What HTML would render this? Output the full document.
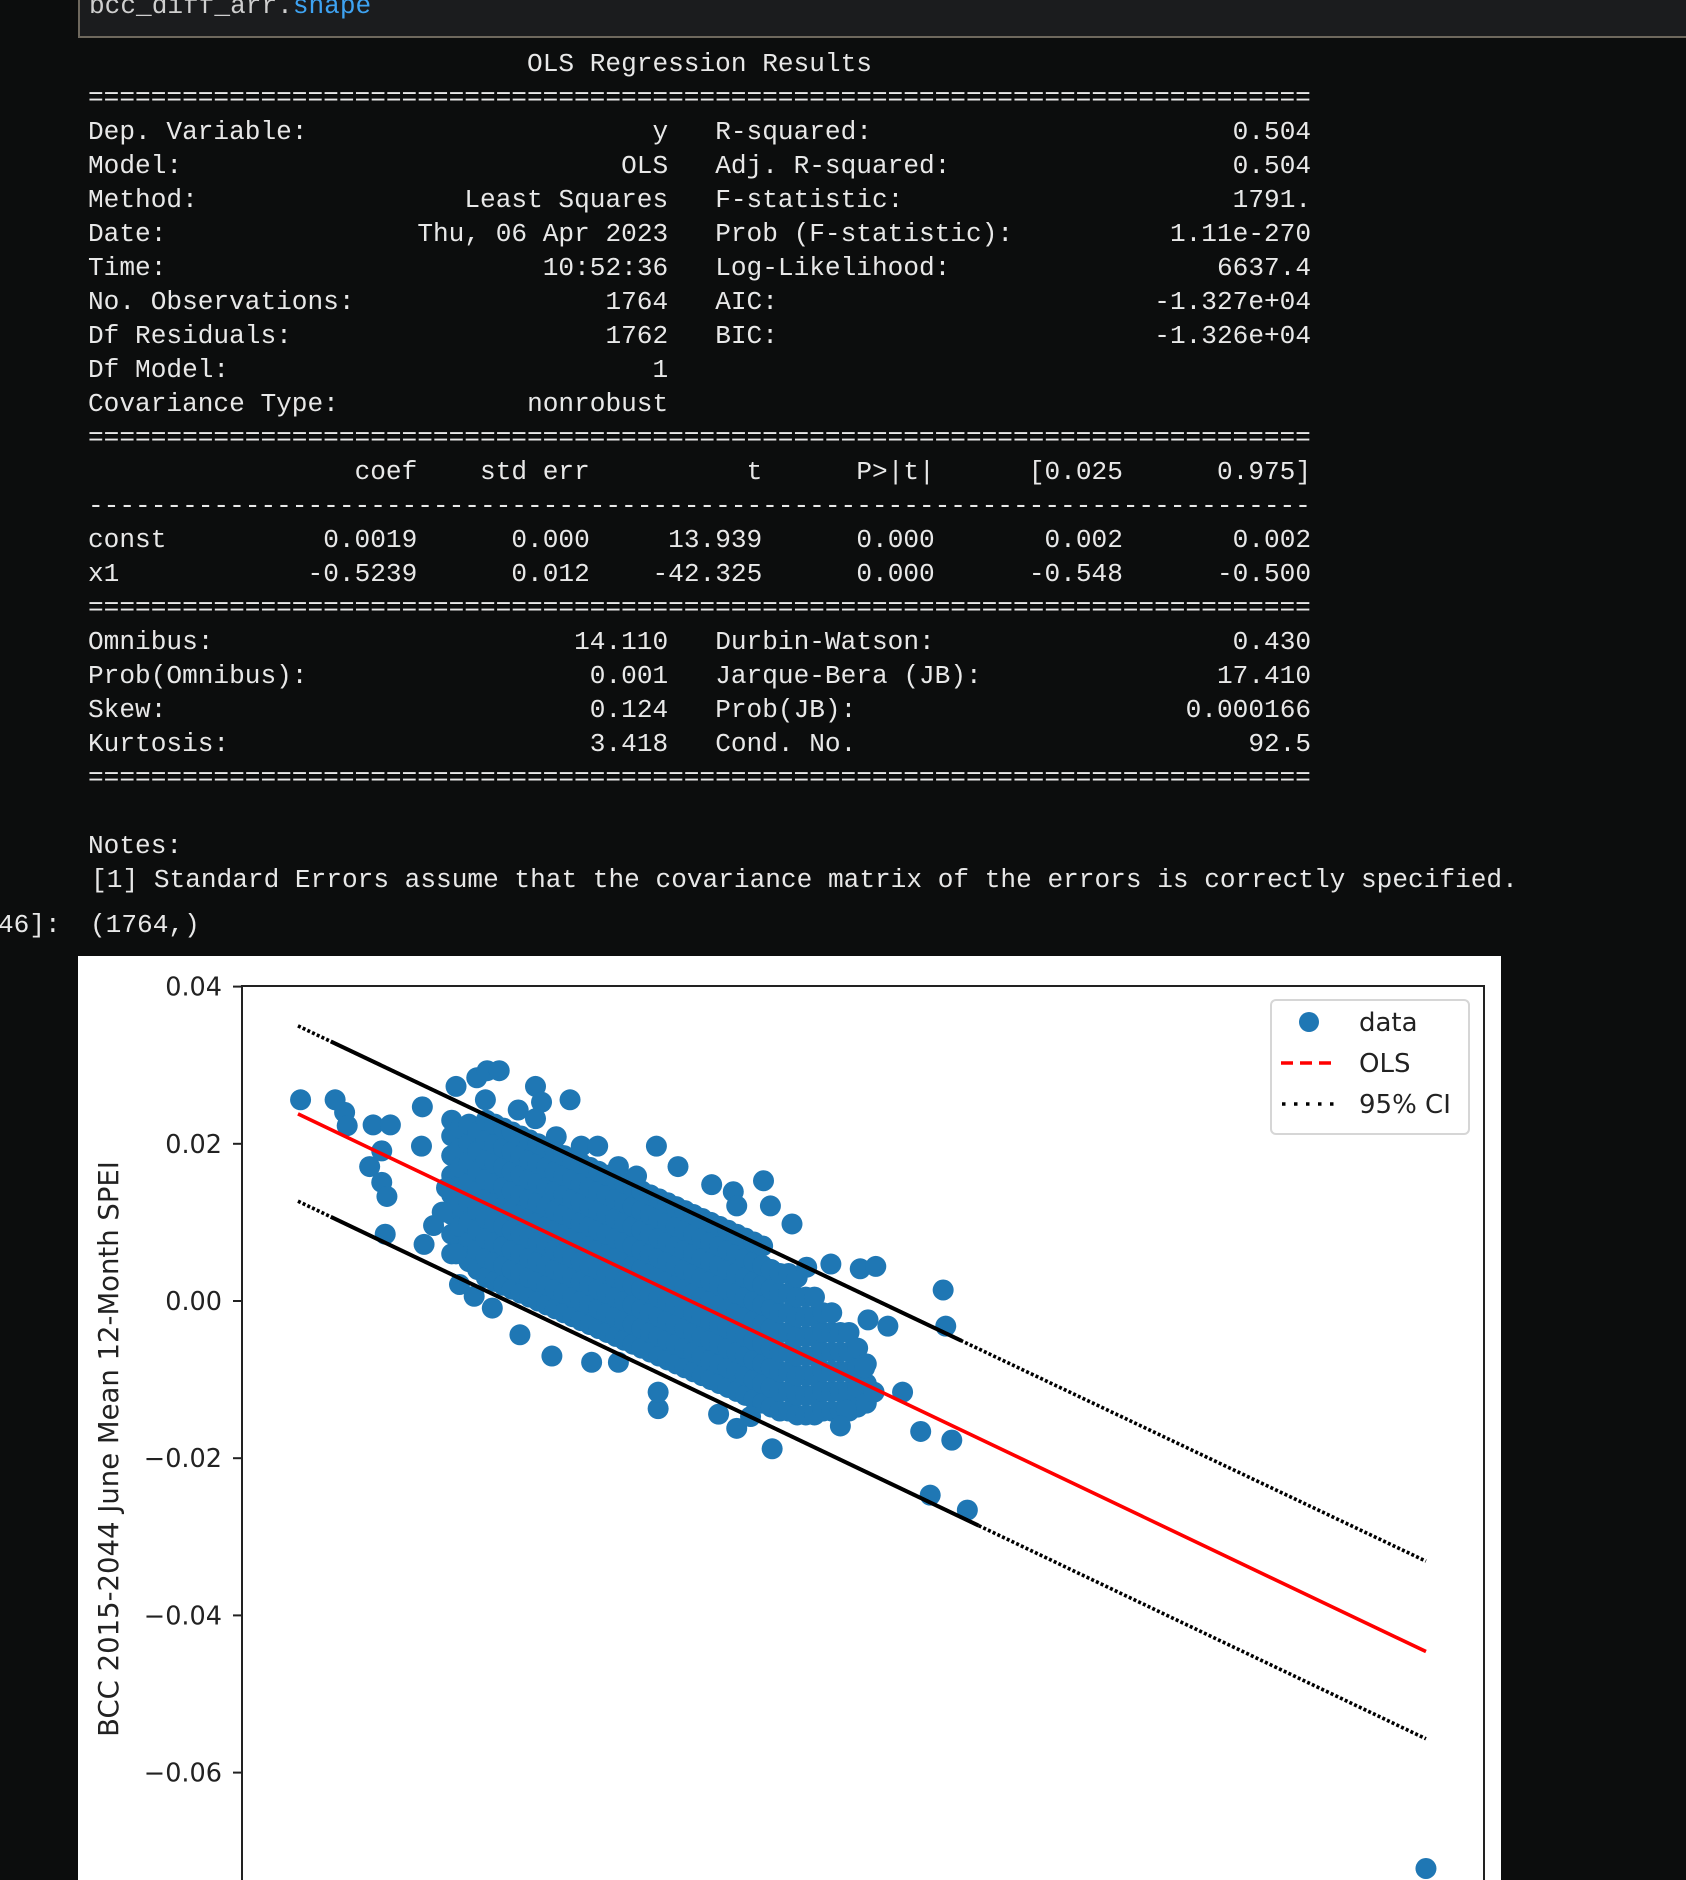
<!DOCTYPE html>
<html><head><meta charset="utf-8">
<style>
html,body{margin:0;padding:0;background:#0c0d0d;}
body{width:1686px;height:1880px;position:relative;overflow:hidden;font-family:"Liberation Mono",monospace;color:#e8e8e8;}
.code{position:absolute;left:78px;top:-4px;width:1640px;height:42px;background:#1b1c1e;border:2px solid #6e685d;box-sizing:border-box;overflow:hidden;}
.code span{position:absolute;left:9px;top:-9px;font-size:26.13px;line-height:34px;white-space:pre;color:#cfcfcf}
.row{position:absolute;left:0;width:1686px;height:34px;font-size:26.13px;line-height:34px;white-space:pre;}
.row span{position:absolute;top:0;}
svg{position:absolute;left:0;top:0;}
</style></head>
<body>
<div class="code"><span>bcc_diff_arr.<span style="position:static;color:#3ea3f2">shape</span></span></div>

<div id="summary"></div>

<svg id="chart" width="1686" height="1880"></svg>

<script>
const summaryRows = [
  {i:0, cells:[["OLS Regression Results",28,"l"]]},
  {i:1, cells:[["==============================================================================",0,"l"]]},
  {i:2, cells:[["Dep. Variable:",0,"l"],["y",37,"r"],["R-squared:",40,"l"],["0.504",78,"r"]]},
  {i:3, cells:[["Model:",0,"l"],["OLS",37,"r"],["Adj. R-squared:",40,"l"],["0.504",78,"r"]]},
  {i:4, cells:[["Method:",0,"l"],["Least Squares",37,"r"],["F-statistic:",40,"l"],["1791.",78,"r"]]},
  {i:5, cells:[["Date:",0,"l"],["Thu, 06 Apr 2023",37,"r"],["Prob (F-statistic):",40,"l"],["1.11e-270",78,"r"]]},
  {i:6, cells:[["Time:",0,"l"],["10:52:36",37,"r"],["Log-Likelihood:",40,"l"],["6637.4",78,"r"]]},
  {i:7, cells:[["No. Observations:",0,"l"],["1764",37,"r"],["AIC:",40,"l"],["-1.327e+04",78,"r"]]},
  {i:8, cells:[["Df Residuals:",0,"l"],["1762",37,"r"],["BIC:",40,"l"],["-1.326e+04",78,"r"]]},
  {i:9, cells:[["Df Model:",0,"l"],["1",37,"r"]]},
  {i:10, cells:[["Covariance Type:",0,"l"],["nonrobust",37,"r"]]},
  {i:11, cells:[["==============================================================================",0,"l"]]},
  {i:12, cells:[["coef",21,"r"],["std err",32,"r"],["t",43,"r"],["P>|t|",54,"r"],["[0.025",66,"r"],["0.975]",78,"r"]]},
  {i:13, cells:[["------------------------------------------------------------------------------",0,"l"]]},
  {i:14, cells:[["const",0,"l"],["0.0019",21,"r"],["0.000",32,"r"],["13.939",43,"r"],["0.000",54,"r"],["0.002",66,"r"],["0.002",78,"r"]]},
  {i:15, cells:[["x1",0,"l"],["-0.5239",21,"r"],["0.012",32,"r"],["-42.325",43,"r"],["0.000",54,"r"],["-0.548",66,"r"],["-0.500",78,"r"]]},
  {i:16, cells:[["==============================================================================",0,"l"]]},
  {i:17, cells:[["Omnibus:",0,"l"],["14.110",37,"r"],["Durbin-Watson:",40,"l"],["0.430",78,"r"]]},
  {i:18, cells:[["Prob(Omnibus):",0,"l"],["0.001",37,"r"],["Jarque-Bera (JB):",40,"l"],["17.410",78,"r"]]},
  {i:19, cells:[["Skew:",0,"l"],["0.124",37,"r"],["Prob(JB):",40,"l"],["0.000166",78,"r"]]},
  {i:20, cells:[["Kurtosis:",0,"l"],["3.418",37,"r"],["Cond. No.",40,"l"],["92.5",78,"r"]]},
  {i:21, cells:[["==============================================================================",0,"l"]]},
  {i:23, cells:[["Notes:",0,"l"]]},
  {i:24, cells:[["[1] Standard Errors assume that the covariance matrix of the errors is correctly specified.",0.2,"l"]]}
];
(function(){
  const cw = 15.68, left = 88, top0 = 46.6, lh = 34;
  const host = document.getElementById('summary');
  summaryRows.forEach(r=>{
    const row = document.createElement('div');
    row.className='row';
    
    
    row.style.top = (top0 + r.i*lh) + 'px';
    r.cells.forEach(c=>{
      const s = document.createElement('span');
      s.textContent = c[0];
      
      
      if(c[2]==='l'){ s.style.left = (left + c[1]*cw) + 'px'; }
      else { s.style.right = (1686 - (left + c[1]*cw)) + 'px'; }
      row.appendChild(s);
    });
    host.appendChild(row);
  });
  const out = document.createElement('div');
  out.className='row';
  
  
  out.style.top = (925-17)+'px';
  out.innerHTML = '<span style="left:-2px">46]:</span><span style="left:90px">(1764,)</span>';
  document.body.appendChild(out);
})();
</script>

<script>
// ---------- chart data (values in thousandths) ----------
const yTickValues = [40, 20, 0, -20, -40, -60];
const yTickLabels = ["0.04", "0.02", "0.00", "\u22120.02", "\u22120.04", "\u22120.06"];
const fitX = [-41.8, 88.8];
const fitY = [23.8, -44.6];
const ciUpperY = [35.0, -33.1];
const ciLowerY = [12.7, -55.7];
const ciUpperDenseX = [-38, 35];
const ciLowerDenseX = [-38, 37];
const outlierPoints = [
  [-41.5,25.6],[-37.5,25.6],[-36.4,24.0],[-36.1,22.3],[-33.1,22.4],[-31.1,22.4],[-32.1,19.1],
  [-33.5,17.1],[-32.1,15.1],[-31.5,13.3],[-31.7,8.5],[-27.4,24.7],[-27.5,19.7],
  [-21.1,28.4],[-19.9,29.3],[-18.5,29.3],[-20.1,25.6],[-23.5,27.3],
  [-16.3,24.3],[-14.3,27.3],[-13.6,25.3],[-14.3,23.2],[-10.3,25.6],
  [-11.9,20.9],[-9.0,19.7],[-7.1,19.7],[-4.7,17.1],[-2.6,15.9],[-0.3,19.7],[2.2,17.1],
  [6.1,14.8],[8.6,13.9],[12.1,15.3],[9.0,12.1],[12.9,12.1],[15.4,9.8],
  [17.1,4.3],[19.9,4.7],[23.3,4.1],[25.1,4.4],[32.9,1.4],[33.2,-3.2],
  [28.2,-11.6],[30.3,-16.6],[33.9,-17.7],[31.4,-24.7],[35.7,-26.6],[88.8,-72.2],
  [24.2,-2.4],[26.5,-3.2],[23.8,-8.5],[24.9,-11.6],[21.7,-13.9],[21.0,-15.9],
  [13.1,-18.8],[9.0,-16.2],[10.6,-14.7],[-0.1,-13.7],[-0.1,-11.6],[6.9,-14.4],
  [-12.4,-7.0],[-16.1,-4.3],[-19.3,-0.9],[-21.4,0.6],[-23.1,2.1],[-23.5,6.0],
  [-27.2,7.2],[-26.1,9.6],[-7.8,-7.8],[-4.7,-7.8],[-24.6,14.4],[-25.1,11.3]
];
const coreColumns = [
  [-24,[6,8.5,11,13.5,16,18.5,21,23]],
  [-23,[7,9.5,12,14.5,17,19.5,22]],
  [-22,[5,7.5,10,12.5,15,17.5,20,22.5]],
  [-21,[4,6.5,9,11.5,14,16.5,19,21.5]],
  [-20,[3,5.5,8,10.5,13,15.5,18,20.5,23]],
  [-19,[2.5,5,7.5,10,12.5,15,17.5,20,22.5]],
  [-18,[2,4.5,7,9.5,12,14.5,17,19.5,22]],
  [-17,[1.5,4,6.5,9,11.5,14,16.5,19,21.5]],
  [-16,[1,3.5,6,8.5,11,13.5,16,18.5,21]],
  [-15,[0.5,3,5.5,8,10.5,13,15.5,18,20.5]],
  [-14,[0,2.5,5,7.5,10,12.5,15,17.5,20]],
  [-13,[-0.5,2,4.5,7,9.5,12,14.5,17,19.5]],
  [-12,[-1,1.5,4,6.5,9,11.5,14,16.5,19]],
  [-11,[-1.5,1,3.5,6,8.5,11,13.5,16,18.5]],
  [-10,[-2,0.5,3,5.5,8,10.5,13,15.5,18]],
  [-9,[-2.5,0,2.5,5,7.5,10,12.5,15,17.5]],
  [-8,[-3,-0.5,2,4.5,7,9.5,12,14.5,17]],
  [-7,[-3.5,-1,1.5,4,6.5,9,11.5,14,16.5]],
  [-6,[-4,-1.5,1,3.5,6,8.5,11,13.5,16]],
  [-5,[-4.5,-2,0.5,3,5.5,8,10.5,13,15.5]],
  [-4,[-5,-2.5,0,2.5,5,7.5,10,12.5,15]],
  [-3,[-5.5,-3,-0.5,2,4.5,7,9.5,12,14.5]],
  [-2,[-6,-3.5,-1,1.5,4,6.5,9,11.5,14]],
  [-1,[-6.5,-4,-1.5,1,3.5,6,8.5,11,13.5]],
  [0,[-7,-4.5,-2,0.5,3,5.5,8,10.5,13]],
  [1,[-7.5,-5,-2.5,0,2.5,5,7.5,10,12.5]],
  [2,[-8,-5.5,-3,-0.5,2,4.5,7,9.5,12]],
  [3,[-8.5,-6,-3.5,-1,1.5,4,6.5,9,11.5]],
  [4,[-9,-6.5,-4,-1.5,1,3.5,6,8.5,11]],
  [5,[-9.5,-7,-4.5,-2,0.5,3,5.5,8,10.5]],
  [6,[-10,-7.5,-5,-2.5,0,2.5,5,7.5,10]],
  [7,[-10.5,-8,-5.5,-3,-0.5,2,4.5,7,9.5]],
  [8,[-11,-8.5,-6,-3.5,-1,1.5,4,6.5,9]],
  [9,[-11.5,-9,-6.5,-4,-1.5,1,3.5,6,8.5]],
  [10,[-12,-9.5,-7,-4.5,-2,0.5,3,5.5,8]],
  [11,[-12.5,-10,-7.5,-5,-2.5,0,2.5,5,7.5]],
  [12,[-13,-10.5,-8,-5.5,-3,-0.5,2,4.5,7]],
  [13,[-13.5,-11,-8.5,-6,-3.5,-1,1.5,4]],
  [14,[-14,-11.5,-9,-6.5,-4,-1.5,1,3.5]],
  [15,[-14,-11.5,-9,-6.5,-4,-1.5,1,3.5]],
  [16,[-14.5,-12,-9.5,-7,-4.5,-2,0.5,3]],
  [17,[-14.5,-12,-9.5,-7,-4.5,-2,0.5]],
  [18,[-14.5,-12,-9.5,-7,-4.5,-2,0.5]],
  [19,[-14,-11.5,-9,-6.5,-4,-1.5]],
  [20,[-14,-11.5,-9,-6.5,-4,-1.5]],
  [21,[-14,-11.5,-9,-6.5,-4]],
  [22,[-14,-11.5,-9,-6.5,-4]],
  [23,[-13.5,-11,-8.5,-6]],
  [24,[-13,-10.5,-8]]
];

(function(){
  const NS='http://www.w3.org/2000/svg';
  const svg=document.getElementById('chart');
  const X = v => 659 + v*8.637;
  const Y = v => 1301 - v*7.86;
  function mk(tag, attrs, parent){
    const e=document.createElementNS(NS,tag);
    for(const k in attrs) e.setAttribute(k, attrs[k]);
    (parent||svg).appendChild(e);
    return e;
  }
  const bg = mk('rect',{x:78,y:956,width:1423,height:930,fill:'#ffffff'});
  
  
  const clip = mk('clipPath',{id:'plotclip'});
  mk('rect',{x:242,y:986,width:1242,height:900},clip);
  const plot = mk('g',{'clip-path':'url(#plotclip)'});
  
  

  const pts = [];
  coreColumns.forEach(c=>c[1].forEach(y=>pts.push([c[0],y])));
  outlierPoints.forEach(p=>pts.push(p));
  pts.forEach(p=>{
    const c = mk('circle',{cx:X(p[0]),cy:Y(p[1]),r:10.5,fill:'#1f77b4'},plot);
    
    
  });
  const lineY = (ys, x) => ys[0] + (ys[1]-ys[0])*(x-fitX[0])/(fitX[1]-fitX[0]);
  [[ciUpperY,ciUpperDenseX,'ci-upper-line'],[ciLowerY,ciLowerDenseX,'ci-lower-line']].forEach(d=>{
    const l = mk('line',{x1:X(fitX[0]),y1:Y(d[0][0]),x2:X(fitX[1]),y2:Y(d[0][1]),stroke:'#000',
      'stroke-width':3.6,'stroke-dasharray':'3 2.2'},plot);
    
    
    const s = mk('line',{x1:X(d[1][0]),y1:Y(lineY(d[0],d[1][0])),x2:X(d[1][1]),y2:Y(lineY(d[0],d[1][1])),stroke:'#000','stroke-width':4},plot);
    
    
  });
  const fl = mk('line',{x1:X(fitX[0]),y1:Y(fitY[0]),x2:X(fitX[1]),y2:Y(fitY[1]),stroke:'#ff0000','stroke-width':3.6},plot);
  
  

  const sp = mk('path',{d:'M242,1886 L242,986 L1484,986 L1484,1886',fill:'none',stroke:'#222','stroke-width':2});
  
  
  yTickValues.forEach((v,i)=>{
    const t = mk('line',{x1:233,x2:242,y1:Y(v),y2:Y(v),stroke:'#222','stroke-width':2});
    
    
    const tx = mk('text',{x:222,y:Y(v)+9,'text-anchor':'end','font-family':'DejaVu Sans, sans-serif','font-size':25.5,fill:'#222'});
    tx.textContent = yTickLabels[i];
    
    
  });
  const yl = mk('text',{x:0,y:0,transform:'translate(118,1449) rotate(-90)','text-anchor':'middle','font-family':'DejaVu Sans, sans-serif','font-size':27.5,fill:'#222'});
  yl.textContent = 'BCC 2015-2044 June Mean 12-Month SPEI';
  
  

  const lg = mk('g',{});
  
  
  mk('rect',{x:1271,y:1000,width:198,height:134,rx:5,fill:'#fff','fill-opacity':0.9,stroke:'#d6d6d6','stroke-width':2},lg);
  const m = mk('circle',{cx:1309,cy:1022,r:10,fill:'#1f77b4'},lg);
  
  
  const ld = mk('line',{x1:1281,x2:1337,y1:1063,y2:1063,stroke:'#ff0000','stroke-width':3.5,'stroke-dasharray':'12 7'},lg);
  
  
  const lc = mk('line',{x1:1282,x2:1334,y1:1104,y2:1104,stroke:'#000','stroke-width':3.5,'stroke-dasharray':'3.5 8.5'},lg);
  
  
  [['data',1031,'legend-entry-data'],['OLS',1072,'legend-entry-ols'],['95% CI',1113,'legend-entry-ci']].forEach(e=>{
    const t = mk('text',{x:1359,y:e[1],'font-family':'DejaVu Sans, sans-serif','font-size':26,fill:'#222'},lg);
    t.textContent = e[0];
    
    
  });
})();
</script>
</body></html>
